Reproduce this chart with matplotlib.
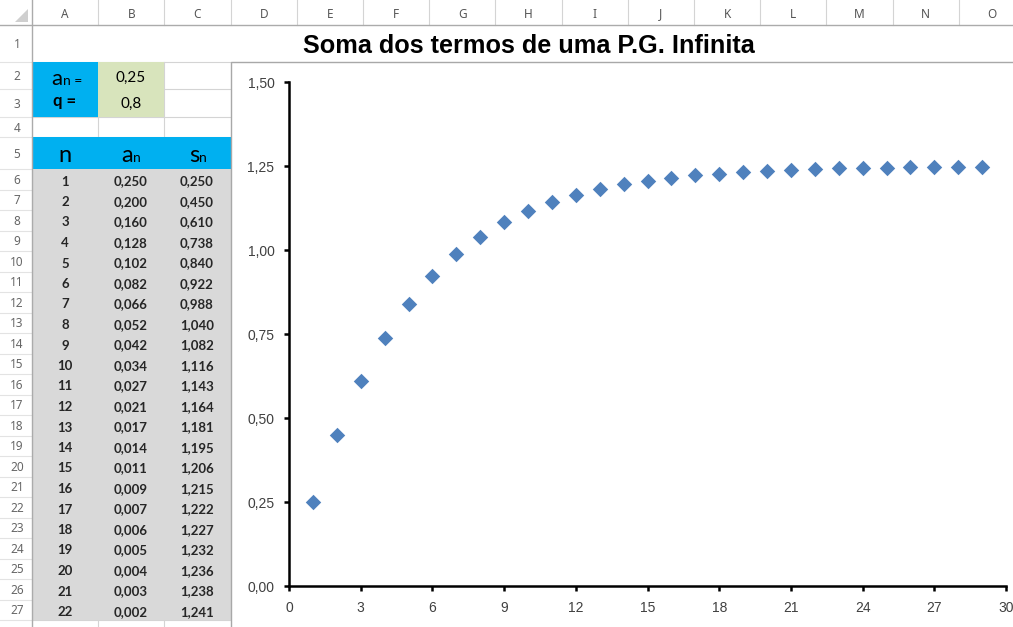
import matplotlib.pyplot as plt
from matplotlib.patches import Rectangle, Polygon
from matplotlib.ticker import FuncFormatter, MultipleLocator

# valores da planilha
a1 = "0,25"
razao = "0,8"
n_tab = list(range(1, 23))
an = [0.250, 0.200, 0.160, 0.128, 0.102, 0.082, 0.066, 0.052, 0.042, 0.034, 0.027,
      0.021, 0.017, 0.014, 0.011, 0.009, 0.007, 0.006, 0.005, 0.004, 0.003, 0.002]
sn = [0.250, 0.450, 0.610, 0.738, 0.840, 0.922, 0.988, 1.040, 1.082, 1.116, 1.143,
      1.164, 1.181, 1.195, 1.206, 1.215, 1.222, 1.227, 1.232, 1.236, 1.238, 1.241]

# pontos do grafico (n = 1..29)
n_graf = list(range(1, 30))
sn_graf = sn + [1.243, 1.244, 1.245, 1.246, 1.247, 1.248, 1.248]

colunas = list("ABCDEFGHIJKLMNO")
titulo = "Soma dos termos de uma P.G. Infinita"

W, H = 1013, 627
fig = plt.figure(figsize=(W / 100, H / 100), dpi=100)
bg = fig.add_axes([0, 0, 1, 1])
bg.set_xlim(0, W)
bg.set_ylim(H, 0)
bg.axis('off')

grade = '#D4D4D4'
cab = '#ABABAB'
ciano = '#00B0F0'
verde = '#D8E4BC'
cinza = '#D9D9D9'
fonte_tab = 'Lato'

x0, cw = 32, 66.2
col_b = [x0 + cw * i for i in range(len(colunas) + 1)]

# linhas: (topo, base)
linhas = {1: (25, 62), 2: (62, 89), 3: (89, 117), 4: (117, 137), 5: (137, 169)}
for r in range(6, 30):
    t = 169 + (r - 6) * 20.5
    linhas[r] = (t, t + 20.5)

# cabecalho de colunas
for i, c in enumerate(colunas):
    bg.text((col_b[i] + col_b[i + 1]) / 2, 14, c, ha='center', va='center',
            fontsize=8.5, color='#555555', family='Noto Sans')
    bg.plot([col_b[i + 1]] * 2, [0, 25], color=grade, lw=0.8, zorder=0.5)
bg.plot([0, W], [25, 25], color=cab, lw=1, zorder=3)
bg.plot([32, 32], [0, H], color=cab, lw=1, zorder=3)
bg.add_patch(Polygon([(15, 22), (28, 22), (28, 9)], closed=True, color='#CFCFCF', lw=0))

# cabecalho de linhas
for r in range(1, 28):
    t, b = linhas[r]
    bg.text(17, (t + b) / 2 + 1, str(r), ha='center', va='center',
            fontsize=8.5, color='#666666', family='Noto Sans')
    bg.plot([0, 32], [b, b], color='#E3E3E3', lw=0.8, zorder=0.5)

# grade das celulas A-C
for r in range(1, 29):
    b = linhas[r][1]
    bg.plot([32, 231], [b, b], color=grade, lw=0.8, zorder=0.5)
for xv in col_b[1:3]:
    bg.plot([xv, xv], [62, H], color=grade, lw=0.8, zorder=0.5)

# preenchimentos
bg.add_patch(Rectangle((32, 62), cw, 117 - 62, color=ciano, lw=0, zorder=1))
bg.add_patch(Rectangle((col_b[1], 62), cw, 117 - 62, color=verde, lw=0, zorder=1))
bg.add_patch(Rectangle((32, 137), 231 - 32, 169 - 137, color=ciano, lw=0, zorder=1))
bg.add_patch(Rectangle((32, 169), 231 - 32, linhas[27][1] - 169, color=cinza, lw=0, zorder=1))

# titulo (A1:O1 mesclado)
bg.text((col_b[0] + col_b[-1]) / 2, 53, titulo, ha='center', va='baseline',
        fontsize=18.2, fontweight='bold', family='Liberation Sans', color='black')

# parametros
bg.text(62.5, 85, 'a', ha='right', va='baseline', fontsize=16, family=fonte_tab)
bg.text(63, 85, 'n =', ha='left', va='baseline', fontsize=10, family=fonte_tab)
bg.text(65, 106, 'q =', ha='center', va='baseline', fontsize=12, fontweight='bold',
        family=fonte_tab)
bg.text(131, 82, a1, ha='center', va='baseline', fontsize=11, family=fonte_tab)
bg.text(131, 108, razao, ha='center', va='baseline', fontsize=11, family=fonte_tab)

# cabecalho da tabela
bg.text(65, 162, 'n', ha='center', va='baseline', fontsize=17, family=fonte_tab)
bg.text(133, 162, 'a', ha='right', va='baseline', fontsize=17, family=fonte_tab)
bg.text(133.5, 162, 'n', ha='left', va='baseline', fontsize=10, family=fonte_tab)
bg.text(199, 162, 's', ha='right', va='baseline', fontsize=17, family=fonte_tab)
bg.text(199.5, 162, 'n', ha='left', va='baseline', fontsize=10, family=fonte_tab)

fmt = lambda v: f"{v:.3f}".replace('.', ',')
for k, (n, a, s) in enumerate(zip(n_tab, an, sn)):
    t = linhas[6 + k][0]
    y = t + 16.5
    for xc, txt in ((65, str(n)), (131, fmt(a)), (197, fmt(s))):
        bg.text(xc, y, txt, ha='center', va='baseline', fontsize=9.5,
                fontweight='bold', family=fonte_tab, color='#262626')

# area do grafico
bg.add_patch(Rectangle((231, 62), 900, 700, facecolor='white', edgecolor='#A8A8A8',
                       lw=1, zorder=2))

# grafico
ax = fig.add_axes([289 / W, (H - 586) / H, (1006 - 289) / W, (586 - 82) / H])
ax.set_facecolor('none')
ax.scatter(n_graf, sn_graf, marker='D', s=62, color='#4F81BD', lw=0, zorder=3)
ax.set_xlim(0, 30)
ax.set_ylim(0, 1.5)
ax.xaxis.set_major_locator(MultipleLocator(3))
ax.yaxis.set_major_locator(MultipleLocator(0.25))
ax.yaxis.set_major_formatter(FuncFormatter(lambda v, p: f"{v:.2f}".replace('.', ',')))
for sp in ('top', 'right'):
    ax.spines[sp].set_visible(False)
for sp in ('left', 'bottom'):
    ax.spines[sp].set_linewidth(1.8)
    ax.spines[sp].set_color('black')
ax.tick_params(direction='out', length=3.5, width=1.8, color='black',
               labelsize=10, labelcolor='#404040', pad=7)
for lb in ax.get_xticklabels() + ax.get_yticklabels():
    lb.set_family('Liberation Sans')
ax.spines['left'].set_capstyle('projecting')

fig.savefig('out.png', dpi=100)
